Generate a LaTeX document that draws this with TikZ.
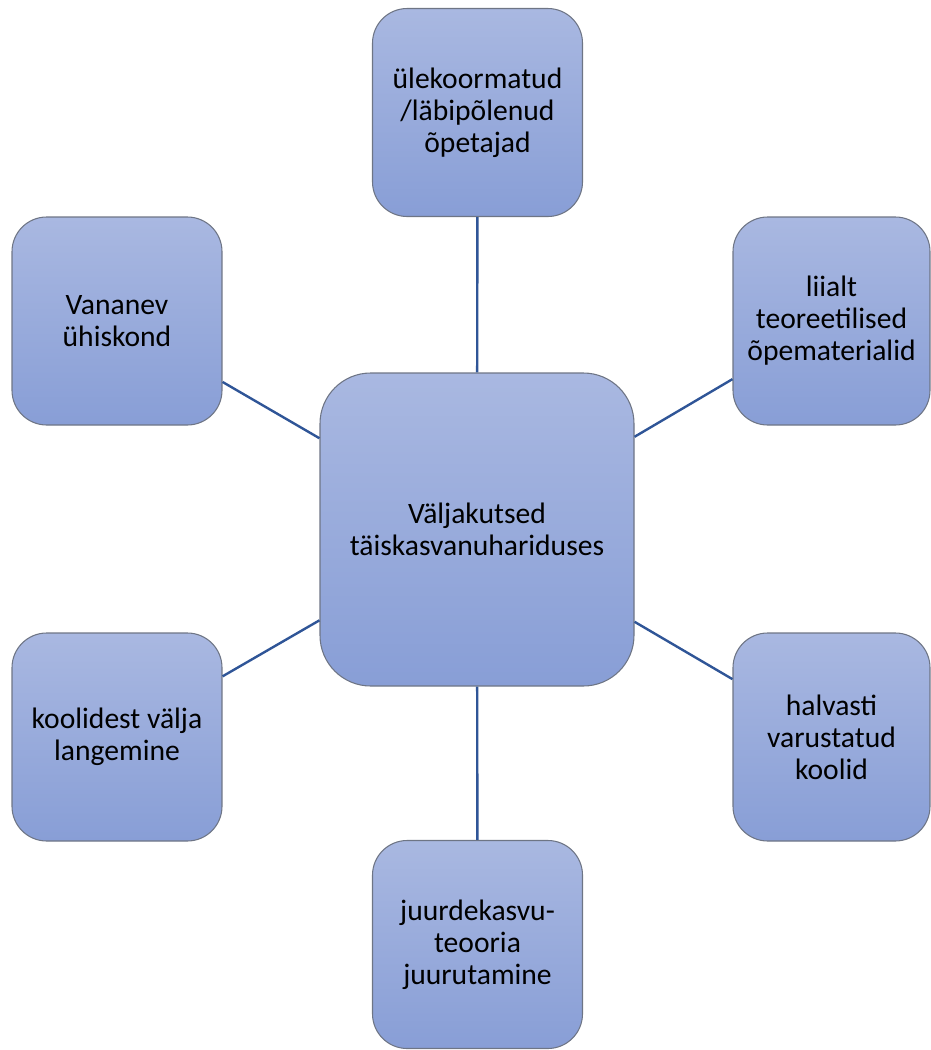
\documentclass[tikz,border=0pt]{standalone}
\usepackage{fontspec}
\setmainfont{Carlito}
\definecolor{boxtop}{HTML}{A9B8E1}
\definecolor{boxbot}{HTML}{889ED6}
\definecolor{boxline}{HTML}{6E7585}
\definecolor{linkblue}{HTML}{2F5597}
\begin{document}
\begin{tikzpicture}[x=0.75pt, y=-0.75pt]
        \tikzstyle{card}=[draw=boxline, line width=0.8pt, rectangle, rounded corners=26pt, top color=boxtop, bottom color=boxbot, minimum width=157.5pt, minimum height=156pt, inner sep=0pt, align=center, font=\fontsize{22.2}{24}\selectfont];
        \tikzstyle{link}=[draw=linkblue, line width=1.8pt];

        \useasboundingbox (0,0) rectangle (931,1050);

        \node[card, rounded corners=38pt, minimum width=235.5pt, minimum height=234.75pt] (chal) at (477,529.5) {Väljakutsed\\täiskasvanuhariduses};
        \node[card] (teach) at (477.5,112.5) {ülekoormatud\\/läbipõlenud\\õpetajad};
        \node[card] (aging) at (117,321) {Vananev\\ühiskond};
        \node[card, minimum width=147.75pt] (mat) at (831.5,321) {liialt\\teoreetilised\\õpematerialid};
        \node[card] (drop) at (117,737) {koolidest välja\\langemine};
        \node[card, minimum width=147.75pt] (equip) at (831.5,737) {halvasti\\varustatud\\koolid};
        \node[card] (theory) at (477.5,944.5) {juurdekasvu-\\teooria\\juurutamine};

        \draw[link] (chal) -- (teach);
        \draw[link] (chal) -- (aging);
        \draw[link] (chal) -- (mat);
        \draw[link] (chal) -- (drop);
        \draw[link] (chal) -- (equip);
        \draw[link] (chal) -- (theory);
    \end{tikzpicture}
\end{document}
